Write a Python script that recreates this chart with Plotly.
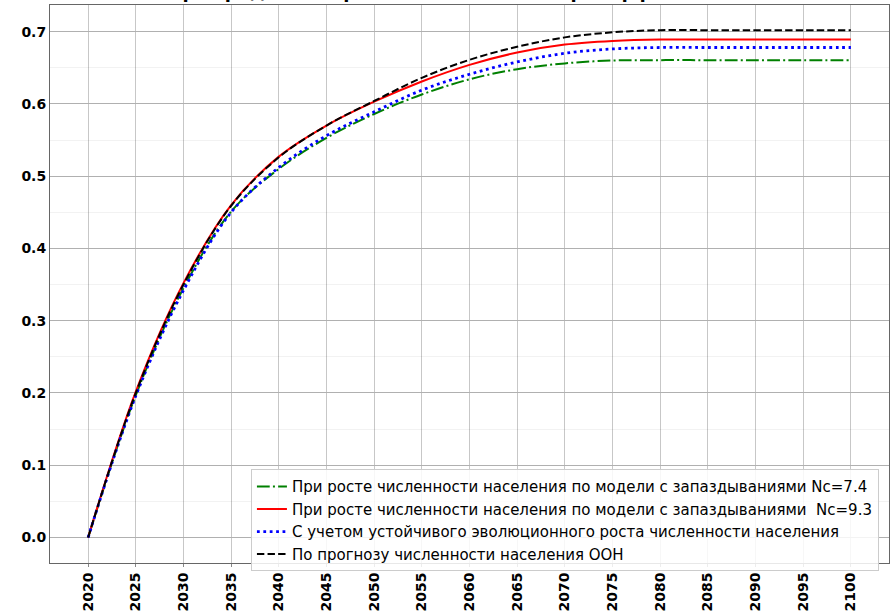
import plotly.graph_objects as go

years = [2020, 2025, 2030, 2035, 2040, 2045, 2050, 2055, 2060, 2065, 2070, 2075,
         2080, 2085, 2090, 2095, 2100]

green_nc74 = [0.0, 0.197, 0.345, 0.451, 0.510, 0.553, 0.586, 0.613, 0.634, 0.648,
              0.656, 0.6600, 0.6605, 0.6605, 0.6605, 0.6605, 0.6605]
red_nc93 = [0.0, 0.202, 0.352, 0.460, 0.527, 0.570, 0.603, 0.631, 0.654, 0.671,
            0.682, 0.687, 0.689, 0.689, 0.689, 0.689, 0.689]
blue_sust = [0.0, 0.196, 0.342, 0.450, 0.512, 0.556, 0.589, 0.619, 0.641, 0.658,
             0.670, 0.676, 0.678, 0.678, 0.678, 0.678, 0.678]
black_un = [0.0, 0.200, 0.350, 0.459, 0.526, 0.570, 0.604, 0.636, 0.661, 0.679,
            0.692, 0.699, 0.702, 0.702, 0.702, 0.702, 0.702]

names = [
    "При росте численности населения по модели с запаздываниями Nc=7.4",
    "При росте численности населения по модели с запаздываниями  Nc=9.3",
    "С учетом устойчивого эволюционного роста численности населения",
    "По прогнозу численности населения ООН",
]
title_text = "при средней скорости повышения энергоэффективности"
x_ticks = list(range(2020, 2101, 5))
y_ticks = [0.0, 0.1, 0.2, 0.3, 0.4, 0.5, 0.6, 0.7]

series = [green_nc74, red_nc93, blue_sust, black_un]
styles = [
    dict(color="#008000", width=2, dash="12.8px,3.2px,2px,3.2px"),
    dict(color="#ff0000", width=2, dash="solid"),
    dict(color="#0000ff", width=2.8, dash="2.8px,3.6px"),
    dict(color="#000000", width=2, dash="7.4px,3.2px"),
]

fig = go.Figure()
for i, (vals, nm, st) in enumerate(zip(series, names, styles)):
    fig.add_trace(go.Scatter(
        x=years, y=vals, mode="lines", name=nm,
        line=dict(shape="spline", smoothing=1.0, **st),
        legendgroup=f"g{i}",
    ))

fig.update_layout(
    width=893, height=615,
    margin=dict(l=50, r=3, t=5, b=42),
    paper_bgcolor="white", plot_bgcolor="white",
    font=dict(family="DejaVu Sans", color="black"),
    showlegend=True,
    legend=dict(
        x=0.988, y=-0.015, xanchor="right", yanchor="bottom",
        bgcolor="rgba(255,255,255,0.85)", bordercolor="#cccccc", borderwidth=1,
        font=dict(family="DejaVu Sans", size=15, color="black"),
        tracegroupgap=2, traceorder="normal",
    ),
    annotations=[dict(
        text="<b>" + title_text + "</b>", xref="paper", yref="paper",
        x=0.5, y=1.0, xanchor="center", yanchor="bottom", showarrow=False,
        font=dict(family="DejaVu Sans", size=18, color="black"), yshift=1,
    )],
)

fig.update_xaxes(
    range=[2016, 2104], tickmode="array", tickvals=x_ticks,
    ticktext=[f"<b>{v}</b>" for v in x_ticks], tickangle=-90,
    tickfont=dict(family="DejaVu Sans", size=14, color="black"),
    showgrid=True, gridcolor="rgba(0,0,0,0.22)", gridwidth=1,
    showline=True, linecolor="#666666", linewidth=1, mirror=True,
    ticks="outside", ticklen=3, tickcolor="#888888", zeroline=False,
)
fig.update_yaxes(
    range=[-0.0353, 0.7368], tickmode="array", tickvals=y_ticks,
    ticktext=[f"<b>{v:.1f}</b>" for v in y_ticks],
    tickfont=dict(family="DejaVu Sans", size=14, color="black"),
    showgrid=True, gridcolor="#b0b0b0", gridwidth=1,
    minor=dict(dtick=0.05, tick0=0, showgrid=True, gridcolor="#f2f2f2"),
    showline=True, linecolor="#666666", linewidth=1, mirror=True,
    ticks="", zeroline=False,
)

fig.write_html("out.html")
